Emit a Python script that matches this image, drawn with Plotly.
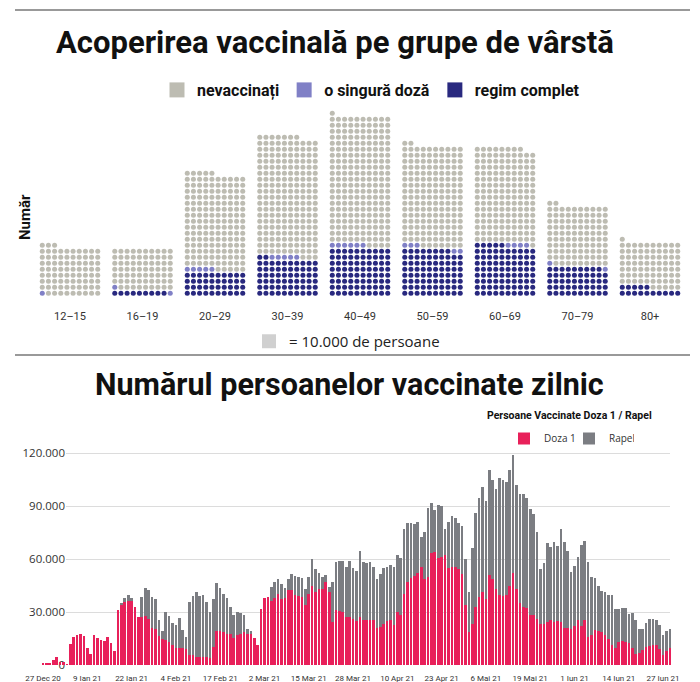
import datetime as dt
import plotly.graph_objects as go

W, H = 700, 682


def fx(p):
    return p / W


def fy(p):
    return 1 - p / H


# ---------------- Waffle data (1 punct = 10.000 de persoane) ----------------
age_groups = ["12–15", "16–19", "20–29", "30–39", "40–49", "50–59", "60–69", "70–79", "80+"]
regim_complet = [0, 9, 40, 62, 80, 78, 85, 49, 15]
o_singura_doza = [1, 2, 5, 5, 6, 5, 4, 2, 0]
nevaccinati = [82, 69, 160, 200, 215, 169, 159, 101, 76]
DOTS_PER_ROW = 10

# ---------------- Daily vaccinations ----------------
start_date = dt.date(2020, 12, 27)
doza1 = [
    1200, 1000, 700, 2700, 4800, 1500, 1700, 500, 12000, 16000, 17000, 17500, 16500,
    9500, 6500, 17000, 15500, 14000, 13500, 16000, 12500, 8000, 31000, 34500, 35500, 36000,
    36500, 32800, 27200, 27000, 28000, 26000, 21000, 20600, 16500, 15000, 14200, 13000, 11600,
    9750, 9400, 9400, 8800, 5600, 5600, 4700, 4300, 4300, 4300, 3750, 10300, 19100,
    19100, 18750, 17800, 17600, 15400, 16900, 17800, 18750, 17800, 17400, 15400, 11250, 31500,
    38000, 38600, 36400, 37900, 40100, 37100, 38000, 42400, 42600, 39750, 39000, 38250, 33750,
    40300, 44600, 41250, 43100, 42750, 46900, 41600, 24400, 31000, 30600, 30000, 27200, 27200,
    25900, 24750, 27200, 25300, 25300, 25300, 25300, 21000, 21600, 23400, 24750, 25300, 22500,
    30000, 28500, 40300, 46900, 49300, 50600, 52100, 55300, 48750, 49700, 63400, 64100, 60400,
    61100, 62250, 54750, 55300, 55300, 54400, 51600, 33750, 18750, 23400, 32800, 38400, 41600,
    37500, 51000, 48750, 43100, 39400, 39000, 39750, 45000, 52100, 42750, 35250, 32800, 32250,
    28500, 28500, 26250, 23250, 23250, 24400, 25300, 24400, 24750, 24400, 21000, 21000, 20100,
    21900, 25300, 21900, 25300, 15900, 16900, 19700, 19300, 18750, 16900, 15000, 11250, 9750,
    13100, 13500, 13100, 12200, 9400, 6000, 6600, 8400, 10300, 10900, 11600, 11600, 9000,
    5600, 8100, 9750,
]
rapel = [
    0, 0, 0, 0, 0, 0, 0, 0, 0, 0, 0, 0, 0,
    0, 0, 0, 0, 0, 0, 0, 0, 0, 0, 500, 2700, 3700,
    1500, 0, 0, 11400, 15700, 16500, 17400, 16900, 9000, 4300, 15800, 14700, 12200,
    13150, 17400, 10300, 6950, 29800, 33400, 36550, 34700, 35100, 31300, 26250, 27200, 27200,
    24400, 21550, 20200, 15200, 12700, 13100, 11600, 9750, 2800, 1900, 0, 0, 0,
    0, 0, 7500, 9350, 8650, 8650, 5700, 6200, 9000, 10500, 10700, 11050, 9000,
    9400, 15400, 13150, 9000, 6950, 4100, 2800, 22850, 27100, 28400, 28700, 28100, 31500,
    28900, 28300, 37100, 32800, 32400, 32800, 30000, 27750, 30000, 31500, 30600, 31500, 32800,
    32250, 32100, 36600, 33400, 30900, 29400, 29100, 16900, 26600, 39400, 28500, 23400, 30000,
    28900, 14800, 26250, 29100, 28100, 25900, 27200, 26250, 22500, 43100, 53400, 56100, 59250,
    55300, 59600, 56250, 56600, 66600, 66000, 63750, 65600, 66900, 58900, 61700, 63750, 62400,
    59600, 56800, 49300, 31100, 34500, 44600, 41600, 45400, 42750, 52500, 48400, 43300, 32800,
    34300, 36000, 46300, 45000, 42200, 32800, 29600, 25700, 22900, 24400, 24400, 28100, 21750,
    18400, 18900, 19300, 16900, 20100, 19300, 13700, 11800, 13500, 15400, 14250, 14100, 13500,
    11250, 11100, 10900,
]
dates = [start_date + dt.timedelta(days=i) for i in range(len(doza1))]

tick_dates = ["2020-12-27", "2021-01-09", "2021-01-22", "2021-02-04", "2021-02-17",
              "2021-03-02", "2021-03-15", "2021-03-28", "2021-04-10", "2021-04-23",
              "2021-05-06", "2021-05-19", "2021-06-01", "2021-06-14", "2021-06-27"]
tick_labels = ["27 Dec 20", "9 Ian 21", "22 Ian 21", "4 Feb 21", "17 Feb 21", "2 Mar 21",
               "15 Mar 21", "28 Mar 21", "10 Apr 21", "23 Apr 21", "6 Mai 21", "19 Mai 21",
               "1 Iun 21", "14 Iun 21", "27 Iun 21"]
y_ticks = [0, 30000, 60000, 90000, 120000]
y_tick_labels = ["0", "30.000", "60.000", "90.000", "120.000"]

# ---------------- Styles ----------------
NAVY = "#29297f"
LAV = "#8080c6"
GRAY = "#bdbcb2"
RED = "#e8205a"
RAPEL_GRAY = "#7b7d82"
TITLE_FONT = "Liberation Sans Narrow, Roboto, sans-serif"

fig = go.Figure()

# ---- Waffle dots
status = [("regim complet", regim_complet, NAVY),
          ("o singură doză", o_singura_doza, LAV),
          ("nevaccinați", nevaccinati, GRAY)]
COL_STEP = 0.085
pts = {name: ([], []) for name, _, _ in status}
for g in range(len(age_groups)):
    idx = 0
    for name, counts, _ in status:
        for _ in range(counts[g]):
            row, col = divmod(idx, DOTS_PER_ROW)
            pts[name][0].append(g + (col - (DOTS_PER_ROW - 1) / 2) * COL_STEP)
            pts[name][1].append(row)
            idx += 1

for name, _, color in status:
    fig.add_trace(go.Scatter(
        x=pts[name][0], y=pts[name][1], mode="markers",
        marker=dict(size=5, color=color, line=dict(width=0)),
        showlegend=False, hoverinfo="skip", xaxis="x", yaxis="y"))

# legend entries for the waffle
for name, _, color in [status[2], status[1], status[0]]:
    fig.add_trace(go.Scatter(
        x=[None], y=[None], mode="markers", name=name,
        marker=dict(symbol="square", size=15, color=color),
        legend="legend2", xaxis="x", yaxis="y"))

fig.add_trace(go.Scatter(
    x=[None], y=[None], mode="markers", name="= 10.000 de persoane",
    marker=dict(symbol="square", size=14, color="#d0d0d0"),
    legend="legend3", xaxis="x", yaxis="y"))

# ---- Grid subplot (x2/y2), drawn under the bars
fig.add_trace(go.Scatter(x=[None], y=[None], xaxis="x2", yaxis="y2",
                         showlegend=False, hoverinfo="skip"))

# ---- Bars (x3/y3)
fig.add_trace(go.Bar(x=dates, y=doza1, name="Doza 1", marker=dict(color=RED, line=dict(width=0)),
                     xaxis="x3", yaxis="y3"))
fig.add_trace(go.Bar(x=dates, y=rapel, name="Rapel", marker=dict(color=RAPEL_GRAY, line=dict(width=0)),
                     xaxis="x3", yaxis="y3"))

# ---------------- Layout ----------------
row0_px, row_px = 293.3, 6.0
w_bottom, w_top = 302, 105
group_px0, group_step_px = 70, 72.5

px_per_day = 3.407
x3_left, x3_right = 38, 674
first_bar_px = 43
x3_range = [dt.datetime.combine(start_date, dt.time()) - dt.timedelta(days=(first_bar_px - x3_left) / px_per_day),
            dt.datetime.combine(start_date, dt.time()) + dt.timedelta(days=(x3_right - first_bar_px) / px_per_day)]
y_zero_px, y_120_px, y_top_px = 665, 453, 440
y_max = 120000 * (y_zero_px - y_top_px) / (y_zero_px - y_120_px)

fig.update_layout(
    width=W, height=H, autosize=False,
    margin=dict(l=0, r=0, t=0, b=0, pad=0),
    paper_bgcolor="white", plot_bgcolor="rgba(0,0,0,0)",
    barmode="stack", bargap=0.22,
    font=dict(family="Roboto, sans-serif", color="#222"),
    xaxis=dict(domain=[0, 1], range=[-group_px0 / group_step_px, (W - group_px0) / group_step_px],
               tickvals=list(range(len(age_groups))), ticktext=age_groups,
               tickfont=dict(size=11, color="#333", family="Roboto"),
               showgrid=False, zeroline=False, showline=False, ticks="",
               ticklabelstandoff=6, anchor="y", fixedrange=True, automargin=False),
    yaxis=dict(domain=[fy(w_bottom), fy(w_top)],
               range=[(row0_px - w_bottom) / row_px, (row0_px - w_top) / row_px],
               visible=False, anchor="x", fixedrange=True, automargin=False),
    xaxis2=dict(domain=[fx(66), fx(670)], range=[0, 1], visible=False, anchor="y2",
                automargin=False),
    yaxis2=dict(domain=[fy(y_zero_px), fy(y_top_px)], range=[0, y_max], anchor="x2",
                tickvals=y_ticks, ticktext=y_tick_labels,
                tickfont=dict(size=11.5, color="#333", family="Open Sans"),
                showgrid=True, gridcolor="#dcdcdc", gridwidth=1,
                zeroline=False, showline=False, ticks="", automargin=False),
    xaxis3=dict(domain=[fx(x3_left), fx(x3_right)], type="date", range=x3_range,
                tickvals=tick_dates, ticktext=tick_labels,
                tickfont=dict(size=8, color="#333", family="Roboto"),
                showgrid=False, zeroline=False, showline=False, ticks="", anchor="y3",
                ticklabelstandoff=7, automargin=False),
    yaxis3=dict(domain=[fy(y_zero_px), fy(y_top_px)], range=[0, y_max], visible=False,
                anchor="x3", automargin=False),
    legend=dict(orientation="h", x=fx(504), y=fy(424), xanchor="left", yanchor="top",
                font=dict(size=10, color="#333", family="Open Sans"), bgcolor="rgba(0,0,0,0)",
                traceorder="normal", entrywidth=20),
    legend2=dict(orientation="h", x=fx(157), y=fy(73), xanchor="left", yanchor="top",
                 font=dict(size=16, color="#111", family="Roboto", weight="bold"),
                 bgcolor="rgba(0,0,0,0)", itemsizing="trace"),
    legend3=dict(orientation="h", x=fx(249), y=fy(325), xanchor="left", yanchor="top",
                 font=dict(size=15, color="#222", family="Open Sans"),
                 bgcolor="rgba(0,0,0,0)", itemsizing="trace"),
    shapes=[
        dict(type="line", xref="paper", yref="paper", x0=fx(15), x1=fx(690), y0=fy(10), y1=fy(10),
             line=dict(color="#999999", width=2)),
        dict(type="line", xref="paper", yref="paper", x0=fx(15), x1=fx(690), y0=fy(355), y1=fy(355),
             line=dict(color="#999999", width=2)),
    ],
    annotations=[
        dict(text="<b>Acoperirea vaccinală pe grupe de vârstă</b>", x=fx(335), y=fy(43),
             xref="paper", yref="paper", xanchor="center", yanchor="middle", showarrow=False,
             font=dict(size=31, color="#111", family=TITLE_FONT)),
        dict(text="<b>Numărul persoanelor vaccinate zilnic</b>", x=fx(349), y=fy(384),
             xref="paper", yref="paper", xanchor="center", yanchor="middle", showarrow=False,
             font=dict(size=30.5, color="#111", family=TITLE_FONT)),
        dict(text="<b>Număr</b>", x=fx(25), y=fy(217), xref="paper", yref="paper",
             xanchor="center", yanchor="middle", showarrow=False, textangle=-90,
             font=dict(size=15, color="#111", family="Roboto")),
        dict(text="<b>Persoane Vaccinate Doza 1 / Rapel</b>", x=fx(569), y=fy(415),
             xref="paper", yref="paper", xanchor="center", yanchor="middle", showarrow=False,
             font=dict(size=10.5, color="#111", family="Roboto")),
    ],
)

fig.write_html("out.html", config={"displayModeBar": False},
               post_script="document.body.style.margin='0px';")
